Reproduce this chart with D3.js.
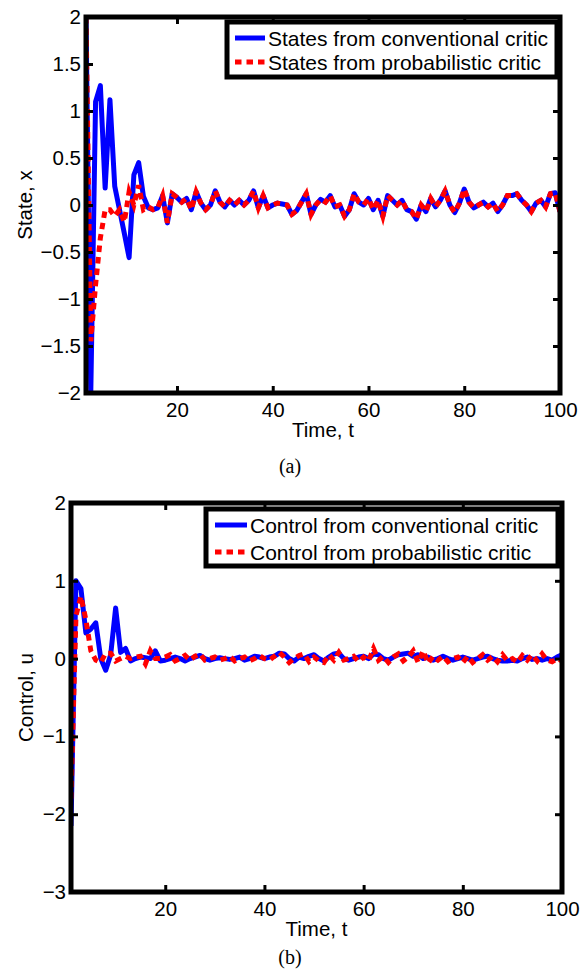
<!DOCTYPE html>
<html>
<head>
<meta charset="utf-8">
<script src="https://cdn.jsdelivr.net/npm/d3@7"></script>
<style>
  body { margin: 0; background: #fff; }
  svg text { font-family: "Liberation Sans", Arial, sans-serif; fill: #000; }
</style>
</head>
<body>
<svg id="chart" width="581" height="980"></svg>
<script>
"use strict";

// time axis ticks
const xTicks = [20, 40, 60, 80, 100];

// (a) state trajectories, t = 1..100
const stateConventional = [
    2.0, -2.0, 1.1, 1.27, 0.18, 1.12, 0.2, -0.05, -0.3, -0.56,
    0.32, 0.45, 0.09, -0.03, -0.05, -0.03, 0.1, -0.19, 0.12, 0.08,
    0.03, 0.07, -0.05, 0.14, 0.02, -0.05, 0.0, 0.15, 0.03, -0.02,
    0.05, 0.0, 0.05, 0.0, 0.05, 0.15, -0.03, 0.1, -0.03, 0.0,
    0.02, 0.01, 0.0, -0.1, -0.06, 0.03, 0.12, -0.1, 0.0, 0.06,
    0.03, 0.1, -0.02, 0.0, -0.12, -0.05, 0.12, 0.03, 0.0, 0.07,
    -0.05, 0.05, -0.12, 0.1, 0.05, 0.0, 0.05, -0.05, -0.07, -0.15,
    0.0, -0.07, 0.07, -0.02, 0.05, 0.15, 0.0, -0.08, 0.02, 0.17,
    0.03, -0.03, 0.0, 0.03, -0.02, 0.02, -0.07, 0.0, 0.1, 0.1,
    0.12, 0.05, 0.0, -0.07, 0.02, 0.05, -0.02, 0.12, 0.13, -0.07
];
const stateProbabilistic = [
    2.0, -1.45, -0.85, -0.35, -0.05, -0.05, -0.12, -0.05, -0.18, 0.14,
    0.0, 0.21, -0.05, -0.02, -0.05, -0.03, 0.1, -0.19, 0.12, 0.08,
    0.03, 0.07, -0.05, 0.14, 0.02, -0.05, 0.0, 0.15, 0.03, -0.02,
    0.05, 0.0, 0.05, 0.0, 0.05, 0.15, -0.03, 0.1, -0.03, 0.0,
    0.02, 0.01, 0.0, -0.1, -0.06, 0.03, 0.12, -0.1, 0.0, 0.06,
    0.03, 0.1, -0.02, 0.0, -0.12, -0.05, 0.12, 0.03, 0.0, 0.07,
    -0.05, 0.05, -0.12, 0.1, 0.05, 0.0, 0.05, -0.05, -0.07, -0.15,
    0.0, -0.07, 0.07, -0.02, 0.05, 0.15, 0.0, -0.08, 0.02, 0.17,
    0.03, -0.03, 0.0, 0.03, -0.02, 0.02, -0.07, 0.0, 0.1, 0.1,
    0.12, 0.05, 0.0, -0.07, 0.02, 0.05, -0.02, 0.12, 0.13, -0.07
];
const stateTicks = [-2, -1.5, -1, -0.5, 0, 0.5, 1, 1.5, 2];

// (b) control signals, t = 1..100
const controlConventional = [
    -2.15, 1.0, 0.9, 0.33, 0.38, 0.46, 0.0, -0.15, 0.05, 0.65,
    0.08, 0.13, -0.03, 0.0, 0.02, 0.01, 0.0, 0.1, -0.03, -0.02,
    0.0, 0.02, 0.0, -0.03, 0.0, 0.02, 0.04, 0.0, -0.02, 0.0,
    0.01, 0.0, -0.01, 0.0, 0.02, -0.02, 0.0, 0.03, 0.02, 0.0,
    0.02, 0.03, 0.07, 0.06, 0.0, -0.03, 0.02, 0.0, 0.03, 0.05,
    0.0, -0.03, 0.02, 0.06, 0.07, 0.0, -0.02, 0.0, 0.02, 0.03,
    0.0, 0.06, 0.05, 0.0, -0.02, 0.02, 0.05, 0.06, 0.07, 0.03,
    0.05, 0.0, 0.02, -0.02, 0.0, 0.03, 0.0, -0.02, 0.0, 0.02,
    0.0, -0.02, 0.0, 0.02, 0.03, 0.0, -0.02, -0.03, -0.03, -0.02,
    -0.03, 0.0, 0.02, -0.01, 0.0, -0.02, 0.0, -0.02, 0.02, 0.05
];
const controlProbabilistic = [
    -1.8, 0.55, 0.8, 0.5, 0.1, -0.02, -0.05, 0.07, 0.07, -0.03,
    0.0, 0.03, 0.0, 0.02, 0.03, -0.07, 0.1, 0.0, 0.0, 0.02,
    0.05, -0.03, 0.0, 0.04, -0.02, 0.03, 0.06, -0.02, 0.0, 0.02,
    -0.02, 0.0, 0.03, -0.03, 0.0, 0.02, -0.03, 0.0, 0.04, 0.0,
    -0.02, 0.03, 0.08, 0.02, -0.05, 0.0, 0.04, 0.06, -0.04, 0.02,
    -0.03, -0.05, 0.05, -0.02, 0.08, -0.02, 0.0, 0.03, -0.04, 0.02,
    -0.03, 0.13, -0.02, 0.03, -0.05, 0.02, 0.06, -0.03, 0.02, 0.1,
    -0.05, 0.1, -0.06, 0.03, -0.02, 0.03, -0.04, 0.0, 0.02, -0.05,
    0.03, -0.05, 0.0, 0.05, -0.02, 0.03, -0.04, 0.05, -0.03, 0.0,
    -0.05, 0.04, -0.02, 0.05, -0.03, 0.06, -0.02, -0.04, 0.0, -0.03
];
const controlTicks = [-3, -2, -1, 0, 1, 2];

const svg = d3.select("#chart");

drawPanel({
    id: "a",
    box: { left: 86, right: 560, top: 17, bottom: 393 },
    yDomain: [-2, 2],
    yTicks: stateTicks,
    yLabel: "State, x",
    yLabelX: 32,
    series: [stateConventional, stateProbabilistic],
    names: ["States from conventional critic", "States from probabilistic critic"],
    legend: { x: 227, y: 22, w: 330, h: 55, row1: 16, row2: 40, line0: 8, line1: 38, text: 41 },
    caption: "(a)",
    captionY: 473
});

drawPanel({
    id: "b",
    box: { left: 71, right: 562, top: 503, bottom: 892 },
    yDomain: [-3, 2],
    yTicks: controlTicks,
    yLabel: "Control, u",
    yLabelX: 33,
    series: [controlConventional, controlProbabilistic],
    names: ["Control from conventional critic", "Control from probabilistic critic"],
    legend: { x: 206, y: 509, w: 352, h: 57, row1: 16, row2: 43, line0: 9, line1: 41, text: 44 },
    caption: "(b)",
    captionY: 964
});

function drawPanel (p) {
    const b = p.box;
    const x = d3.scaleLinear().domain([1, 100]).range([b.left, b.right]);
    const y = d3.scaleLinear().domain(p.yDomain).range([b.bottom, b.top]);
    const fmt = (v) => String(v).replace("-", "\u2212");

    const g = svg.append("g");

    g.append("clipPath").attr("id", "clip-" + p.id)
        .append("rect")
        .attr("x", b.left).attr("y", b.top - 2)
        .attr("width", b.right - b.left).attr("height", b.bottom - b.top + 4);

    // the two traces
    const line = d3.line()
        .x((d, i) => x(i + 1))
        .y((d) => y(d));
    const lines = g.append("g").attr("clip-path", `url(#clip-${p.id})`);
    lines.append("path")
        .attr("d", line(p.series[0]))
        .attr("fill", "none")
        .attr("stroke", "#0000ff")
        .attr("stroke-width", 5)
        .attr("stroke-linejoin", "round");
    lines.append("path")
        .attr("d", line(p.series[1]))
        .attr("fill", "none")
        .attr("stroke", "#ff0000")
        .attr("stroke-width", 5)
        .attr("stroke-dasharray", "6.5,5");

    // axes, ticks pointing inwards like matlab
    const tickLen = -7;
    const bottomAxis = g.append("g")
        .attr("transform", `translate(0,${b.bottom})`)
        .call(d3.axisBottom(x).tickValues(xTicks).tickSizeInner(tickLen).tickSizeOuter(0).tickPadding(9));
    const leftAxis = g.append("g")
        .attr("transform", `translate(${b.left},0)`)
        .call(d3.axisLeft(y).tickValues(p.yTicks).tickFormat(fmt).tickSizeInner(tickLen).tickSizeOuter(0).tickPadding(5));
    const topAxis = g.append("g")
        .attr("transform", `translate(0,${b.top})`)
        .call(d3.axisTop(x).tickValues(xTicks).tickFormat("").tickSizeInner(tickLen).tickSizeOuter(0));
    const rightAxis = g.append("g")
        .attr("transform", `translate(${b.right},0)`)
        .call(d3.axisRight(y).tickValues(p.yTicks).tickFormat("").tickSizeInner(tickLen).tickSizeOuter(0));

    [bottomAxis, leftAxis, topAxis, rightAxis].forEach((a) => {
        a.select(".domain").remove();
        a.selectAll(".tick line").attr("stroke", "#000").attr("stroke-width", 3);
        a.selectAll(".tick text")
            .style("font-family", "'Liberation Sans', Arial, sans-serif")
            .style("font-size", "20.5px")
            .attr("fill", "#000");
    });

    g.append("rect")
        .attr("x", b.left).attr("y", b.top)
        .attr("width", b.right - b.left).attr("height", b.bottom - b.top)
        .attr("fill", "none")
        .attr("stroke", "#000")
        .attr("stroke-width", 5);

    // axis titles
    g.append("text")
        .attr("x", (b.left + b.right) / 2)
        .attr("y", b.bottom + 44)
        .attr("text-anchor", "middle")
        .style("font-size", "20.5px")
        .text("Time, t");
    g.append("text")
        .attr("transform", `translate(${p.yLabelX},${(b.top + b.bottom) / 2}) rotate(-90)`)
        .attr("text-anchor", "middle")
        .style("font-size", "20.5px")
        .text(p.yLabel);

    // legend
    const L = p.legend;
    const lg = g.append("g").attr("transform", `translate(${L.x},${L.y})`);
    lg.append("rect")
        .attr("width", L.w).attr("height", L.h)
        .attr("fill", "#fff")
        .attr("stroke", "#000")
        .attr("stroke-width", 5);
    [L.row1, L.row2].forEach((ry, i) => {
        lg.append("line")
            .attr("x1", L.line0).attr("x2", L.line1)
            .attr("y1", ry).attr("y2", ry)
            .attr("stroke", i === 0 ? "#0000ff" : "#ff0000")
            .attr("stroke-width", 5)
            .attr("stroke-dasharray", i === 0 ? null : "6.5,5");
        lg.append("text")
            .attr("x", L.text).attr("y", ry)
            .attr("dy", "0.36em")
            .style("font-size", "21px")
            .text(p.names[i]);
    });

    // caption
    svg.append("text")
        .attr("x", 290)
        .attr("y", p.captionY)
        .attr("text-anchor", "middle")
        .style("font-family", "'Liberation Serif', 'Times New Roman', serif")
        .style("font-size", "20px")
        .text(p.caption);
}
</script>
</body>
</html>
